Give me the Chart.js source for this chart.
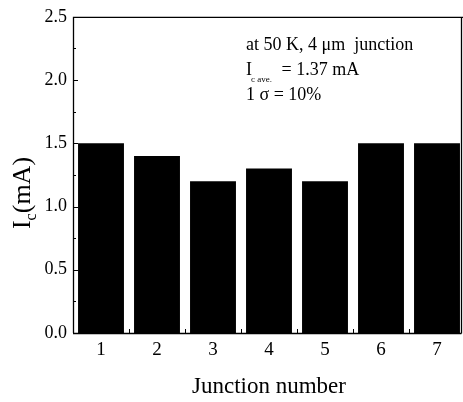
<!DOCTYPE html>
<html><head><meta charset="utf-8">
<script src="https://cdn.jsdelivr.net/npm/chart.js@4"></script>
<style>html,body{margin:0;padding:0;background:#fff;overflow:hidden}#wrap{width:463px;height:402px;overflow:hidden}</style>
</head><body><div id="wrap"><canvas id="c" width="466" height="402"></canvas></div>
<script>
const categories = ['1','2','3','4','5','6','7'];
const icValues = [1.50, 1.40, 1.20, 1.30, 1.20, 1.50, 1.50];
const yTicks = [0.0, 0.5, 1.0, 1.5, 2.0, 2.5];
const yMinorTicks = [0.25, 0.75, 1.25, 1.75, 2.25];
const xTitle = 'Junction number';
const yTitleMain = 'I', yTitleSub = 'c', yTitleUnit = '(mA)';
const noteLine1 = 'at 50 K, 4 \u03bcm  junction';
const noteLine2Main = 'I', noteLine2Sub = 'c ave.', noteLine2Rest = ' = 1.37 mA';
const noteLine3 = '1 \u03c3 = 10%';

const SERIF = '"Liberation Serif", "Times New Roman", serif';

const decor = {
  id: 'decor',
  beforeDatasetsDraw(chart) {
    const ctx = chart.ctx, a = chart.chartArea;
    const y = chart.scales.y, x = chart.scales.x;
    ctx.save();
    ctx.strokeStyle = '#000'; ctx.lineWidth = 1;
    ctx.beginPath();
    yTicks.forEach(v => { const p = Math.round(y.getPixelForValue(v)) + 0.5; ctx.moveTo(a.left, p); ctx.lineTo(a.left + 5, p); });
    yMinorTicks.forEach(v => { const p = Math.round(y.getPixelForValue(v)) + 0.5; ctx.moveTo(a.left, p); ctx.lineTo(a.left + 3, p); });
    for (let i = 0; i <= categories.length; i++) {
      const p = Math.round(x.getPixelForValue(i - 0.5)) + 0.5;
      ctx.moveTo(p, a.bottom); ctx.lineTo(p, a.bottom - 4);
    }
    ctx.stroke();
    ctx.restore();
  },
  afterDatasetsDraw(chart) {
    const ctx = chart.ctx, a = chart.chartArea;
    ctx.save();
    ctx.strokeStyle = '#000'; ctx.lineWidth = 1.3;
    const frameRight = a.right - 3.5;
    ctx.beginPath();
    ctx.moveTo(a.left + 0.5, a.bottom); ctx.lineTo(a.left + 0.5, a.top + 0.5);
    ctx.lineTo(a.right, a.top + 0.5);
    ctx.moveTo(a.left, a.bottom + 0.5); ctx.lineTo(frameRight, a.bottom + 0.5);
    ctx.moveTo(frameRight, a.top); ctx.lineTo(frameRight, a.bottom + 0.5);
    ctx.stroke();
    // y title with subscript
    ctx.fillStyle = '#000';
    ctx.translate(21, 193);
    ctx.rotate(-Math.PI / 2);
    ctx.textBaseline = 'alphabetic';
    const big = '26px ' + SERIF, small = '16px ' + SERIF;
    ctx.font = big; const w1 = ctx.measureText(yTitleMain).width;
    const w3 = ctx.measureText(yTitleUnit).width;
    ctx.font = small; const w2 = ctx.measureText(yTitleSub).width;
    let sx = -(w1 + w2 + w3) / 2;
    const base = 9;
    ctx.font = big; ctx.fillText(yTitleMain, sx, base); sx += w1;
    ctx.font = small; ctx.fillText(yTitleSub, sx, base + 6); sx += w2;
    ctx.font = big; ctx.fillText(yTitleUnit, sx, base);
    ctx.restore();
    // annotation
    ctx.save();
    ctx.fillStyle = '#000';
    ctx.textBaseline = 'alphabetic';
    const f = '18px ' + SERIF;
    ctx.font = f;
    ctx.fillText(noteLine1, 246, 50);
    ctx.fillText(noteLine2Main, 246, 75);
    const iw = ctx.measureText(noteLine2Main).width;
    ctx.font = '9px ' + SERIF;
    ctx.fillText(noteLine2Sub, 246 + iw - 1, 82);
    ctx.font = f;
    ctx.fillText(noteLine2Rest, 277, 75);
    ctx.fillText(noteLine3, 246, 100);
    ctx.restore();
  }
};

new Chart(document.getElementById('c'), {
  type: 'bar',
  data: {
    labels: categories,
    datasets: [{ data: icValues, backgroundColor: '#000', borderWidth: 0, barPercentage: 0.82, categoryPercentage: 1.0 }]
  },
  options: {
    responsive: false,
    animation: false,
    devicePixelRatio: 1,
    layout: { padding: { top: 15, right: 1, left: 0, bottom: 0 } },
    plugins: { legend: { display: false }, tooltip: { enabled: false } },
    scales: {
      x: {
        offset: true,
        grid: { display: false, drawTicks: false },
        border: { display: false },
        ticks: { color: '#000', font: { family: SERIF, size: 19 }, padding: 6, maxRotation: 0 },
        title: { display: true, text: xTitle, color: '#000', font: { family: SERIF, size: 23 }, padding: { top: 4, bottom: 1 } },
        afterFit(s) { s.height = 69; }
      },
      y: {
        min: 0, max: 2.5,
        afterBuildTicks(s) { s.ticks = yTicks.map(v => ({ value: v })); },
        grid: { display: false, drawTicks: false },
        border: { display: false },
        ticks: { color: '#000', font: { family: SERIF, size: 18 }, padding: 6, callback: v => Number(v).toFixed(1) },
        afterFit(s) { s.width = 73; }
      }
    }
  },
  plugins: [decor]
});
</script></body></html>
